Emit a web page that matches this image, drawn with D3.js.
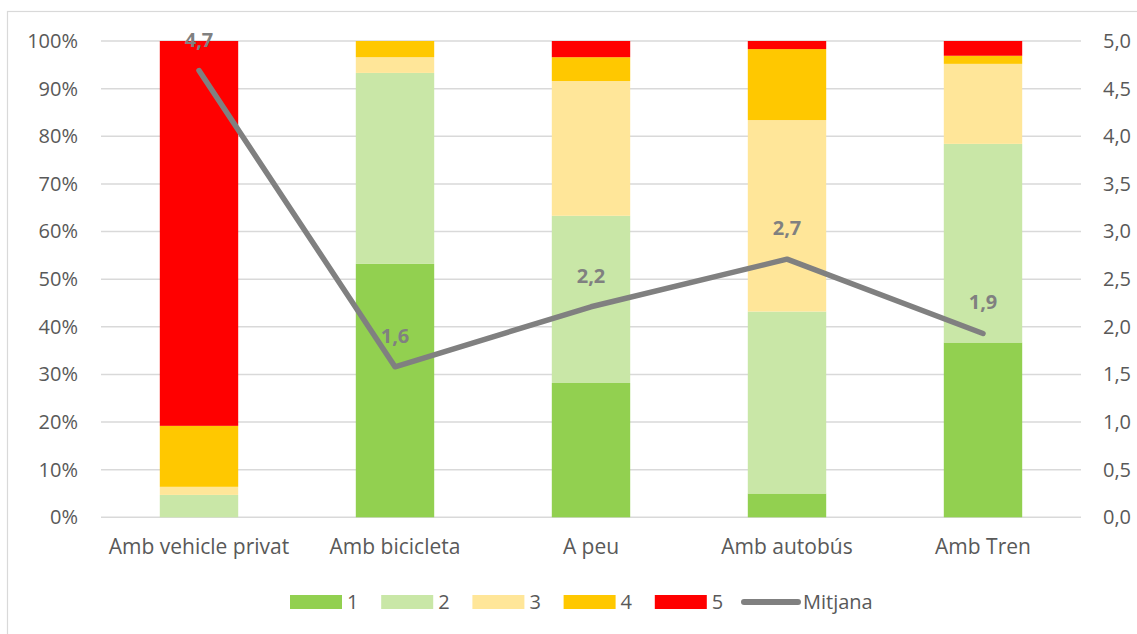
<!DOCTYPE html>
<html>
<head>
<meta charset="utf-8">
<script src="https://cdn.jsdelivr.net/npm/d3@7"></script>
<style>
  html, body { margin: 0; padding: 0; background: #fff; }
  svg { display: block; font-family: "Open Sans", sans-serif; }
</style>
</head>
<body>
<svg id="chart" width="1137" height="634"></svg>
<script>
// ---- Data ----
const categories = ["Amb vehicle privat", "Amb bicicleta", "A peu", "Amb autobús", "Amb Tren"];
const levels = ["1", "2", "3", "4", "5"];
const level1 = [0.0, 53.2, 28.2, 5.0, 36.7];
const level2 = [4.7, 40.1, 35.1, 38.2, 41.7];
const level3 = [1.7, 3.3, 28.3, 40.2, 16.8];
const level4 = [12.8, 3.4, 5.0, 14.9, 1.7];
const level5 = [80.8, 0.0, 3.4, 1.7, 3.1];
const mitjana = [4.69, 1.58, 2.21, 2.71, 1.93];
const mitjanaLabels = ["4,7", "1,6", "2,2", "2,7", "1,9"];
const leftTicks = [0, 10, 20, 30, 40, 50, 60, 70, 80, 90, 100];
const rightTicks = [0, 0.5, 1, 1.5, 2, 2.5, 3, 3.5, 4, 4.5, 5];
const colors = ["#92d050", "#c9e7a7", "#ffe699", "#ffc800", "#ff0000"];
const lineColor = "#808080";

const seriesValues = [level1, level2, level3, level4, level5];
const table = categories.map((c, i) => {
  const row = { cat: c };
  levels.forEach((l, k) => row[l] = seriesValues[k][i]);
  return row;
});

// ---- Layout ----
const svg = d3.select("#chart");
const plot = { left: 101, right: 1081, top: 41, bottom: 517.3 };

svg.append("rect").attr("x", 7.5).attr("y", 11.5).attr("width", 1140).attr("height", 640)
  .attr("fill", "none").attr("stroke", "#d9d9d9").attr("stroke-width", 1.2);

const x = d3.scaleBand().domain(categories).range([plot.left, plot.right]).paddingInner(0.6).paddingOuter(0.3);
const xc = d => x(d) + x.bandwidth() / 2;
const yL = d3.scaleLinear().domain([0, 100]).range([plot.bottom, plot.top]);
const yR = d3.scaleLinear().domain([0, 5]).range([plot.bottom, plot.top]);

// gridlines
svg.append("g").selectAll("line").data(leftTicks).join("line")
  .attr("x1", plot.left).attr("x2", plot.right)
  .attr("y1", d => yL(d)).attr("y2", d => yL(d))
  .attr("stroke", "#d9d9d9").attr("stroke-width", 1.5);

// left axis
const leftAxis = d3.axisLeft(yL).tickValues(leftTicks).tickFormat(d => d + "%").tickSize(0).tickPadding(23);
const gl = svg.append("g").attr("transform", `translate(${plot.left},0)`).call(leftAxis);
gl.select(".domain").remove();
gl.selectAll("text").attr("fill", "#595959").style("font-size", "20px").style("font-family", "Open Sans");

// right axis
const rightAxis = d3.axisRight(yR).tickValues(rightTicks).tickFormat(d => d3.format(".1f")(d).replace(".", ",")).tickSize(0).tickPadding(22);
const gr = svg.append("g").attr("transform", `translate(${plot.right},0)`).call(rightAxis);
gr.select(".domain").remove();
gr.selectAll("text").attr("fill", "#595959").style("font-size", "20px").style("font-family", "Open Sans");

// bars
const stack = d3.stack().keys(levels)(table);
svg.append("g").selectAll("g").data(stack).join("g")
  .attr("fill", (d, i) => colors[i])
  .selectAll("rect").data(d => d).join("rect")
  .attr("x", d => x(d.data.cat))
  .attr("width", x.bandwidth())
  .attr("y", d => yL(d[1]))
  .attr("height", d => Math.max(0, yL(d[0]) - yL(d[1])));

// bottom axis labels
const bottomAxis = d3.axisBottom(x).tickSize(0).tickPadding(22);
const gb = svg.append("g").attr("transform", `translate(0,${plot.bottom})`).call(bottomAxis);
gb.select(".domain").remove();
gb.selectAll("text").attr("fill", "#595959").style("font-size", "21px").style("font-family", "Open Sans");

// line
const line = d3.line().x((d, i) => xc(categories[i])).y(d => yR(d));
svg.append("path").datum(mitjana).attr("d", line)
  .attr("fill", "none").attr("stroke", lineColor).attr("stroke-width", 5.5)
  .attr("stroke-linecap", "round").attr("stroke-linejoin", "round");

// data labels
svg.append("g").selectAll("text").data(mitjana).join("text")
  .attr("x", (d, i) => xc(categories[i]))
  .attr("y", d => yR(d) - 24)
  .attr("text-anchor", "middle")
  .attr("fill", lineColor).style("font-weight", "bold").style("font-size", "20px")
  .text((d, i) => mitjanaLabels[i]);

// legend
const legendItems = levels.map((l, i) => ({ label: l, color: colors[i], type: "rect" }))
  .concat([{ label: "Mitjana", color: lineColor, type: "line" }]);
const lg = svg.append("g");
legendItems.forEach((it, i) => {
  const x0 = 290 + i * 91.2;
  if (it.type === "rect") {
    lg.append("rect").attr("x", x0).attr("y", 595).attr("width", 52).attr("height", 14).attr("fill", it.color);
    lg.append("text").attr("x", x0 + 57).attr("y", 609).attr("fill", "#595959").style("font-size", "20px").text(it.label);
  } else {
    lg.append("line").attr("x1", x0 - 2).attr("x2", x0 + 52).attr("y1", 602).attr("y2", 602)
      .attr("stroke", it.color).attr("stroke-width", 6).attr("stroke-linecap", "round");
    lg.append("text").attr("x", x0 + 57).attr("y", 609).attr("fill", "#595959").style("font-size", "20px").text(it.label);
  }
});
</script>
</body>
</html>
